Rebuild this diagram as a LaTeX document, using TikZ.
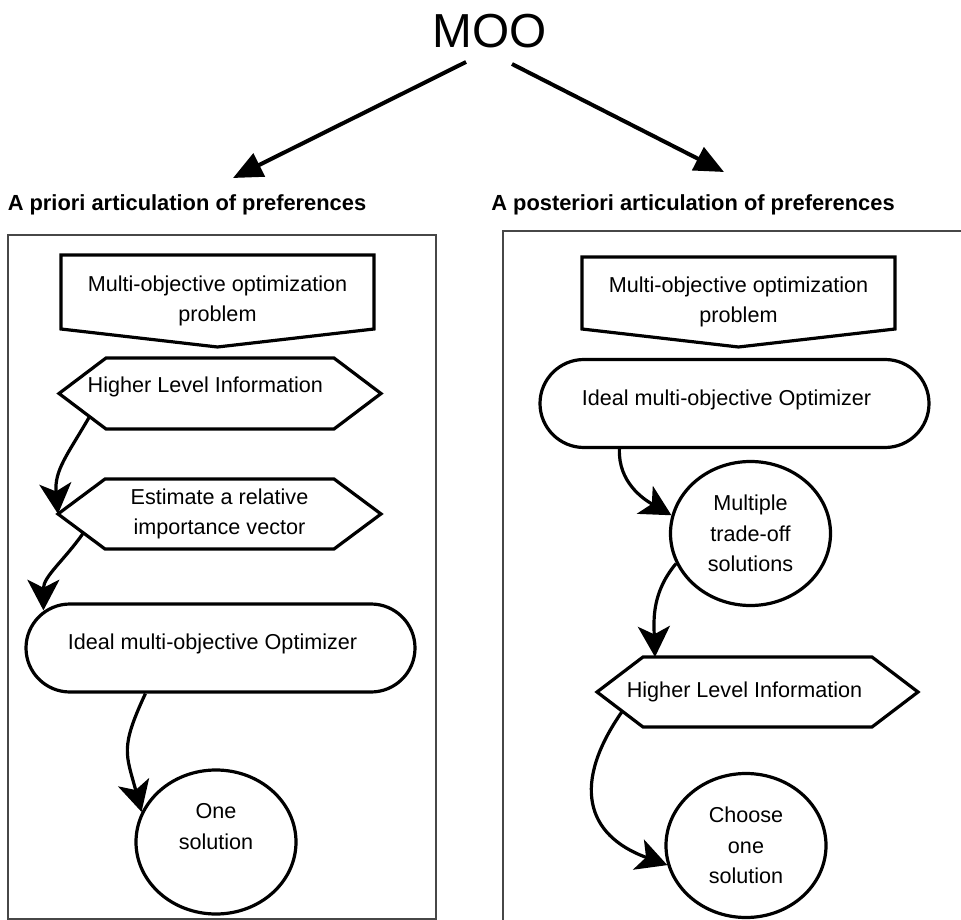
\documentclass[tikz,border=0pt]{standalone}
\usepackage{fontspec}
\setmainfont{Liberation Sans}
\usetikzlibrary{arrows.meta,calc,shapes.geometric}
\begin{document}
\begin{tikzpicture}[x=0.75pt,y=-0.75pt,
  body/.style={font=\fontsize{16.2}{23}\selectfont},
  boxn/.style={body, draw=none, inner sep=0pt, outer sep=0pt},
  outl/.style={draw=black, line width=2.4pt, line join=miter},
  stad/.style={body, draw=black, line width=2.4pt, rectangle, rounded corners=33pt, minimum width=291.75pt, minimum height=66pt, inner sep=0pt},
  circ/.style={body, align=center, draw=black, line width=2.4pt, ellipse, minimum width=120pt, minimum height=108pt, inner sep=0pt},
  flowarr/.style={draw=black, line width=2.4pt, -{Stealth[length=23pt,width=24pt,inset=6pt]}},
  bigarr/.style={draw=black, line width=3pt, -{Triangle[length=22pt,width=19pt]}},
  panel/.style={draw=black!72, line width=1pt},
  ttl/.style={font=\fontsize{16.4}{20}\selectfont\bfseries, inner sep=0pt}
]
\useasboundingbox (0,0) rectangle (961,920);

% title and branches
\node[font=\fontsize{35.8}{40}\selectfont, inner sep=0pt] (moo) at (490,31) {MOO};
\node[ttl] (tl) at (187,205) {A priori articulation of preferences};
\node[ttl] (tr) at (693,205) {A posteriori articulation of preferences};
\draw[bigarr] ($(moo.center)+(-24,31)$) -- ($(tl.center)+(46,-27)$);
\draw[bigarr] ($(moo.center)+(22,33)$) -- ($(tr.center)+(31,-33)$);

% panels
\draw[panel] (8,235) rectangle (436,919);
\draw[panel] (962,231) -- (503,231) -- (503,921);

% ---------- left panel ----------
\node[boxn, align=center, minimum width=234.75pt, minimum height=69pt] (d1) at (217.5,301) {Multi-objective optimization\\problem};
\draw[outl] (d1.north west) -- (d1.north east) -- ($(d1.south east)+(0,-18)$) -- (d1.south) -- ($(d1.south west)+(0,-18)$) -- cycle;

\node[boxn, minimum width=241.5pt, minimum height=53.25pt, text depth=13pt] (h1) at (220,393.5) {Higher Level Information\hspace*{22pt}};
\coordinate (h1nw) at ($(h1.north west)+(47,0)$);
\coordinate (h1ne) at ($(h1.north east)+(-47,0)$);
\coordinate (h1se) at ($(h1.south east)+(-47,0)$);
\coordinate (h1sw) at ($(h1.south west)+(47,0)$);
\draw[outl] (h1.west) -- (h1nw) -- (h1ne) -- (h1.east) -- (h1se) -- (h1sw) -- cycle;

\node[boxn, align=center, minimum width=242.25pt, minimum height=52.5pt] (h2) at (219.5,514) {Estimate a relative\\importance vector};
\coordinate (h2nw) at ($(h2.north west)+(47,0)$);
\coordinate (h2ne) at ($(h2.north east)+(-47,0)$);
\coordinate (h2se) at ($(h2.south east)+(-47,0)$);
\coordinate (h2sw) at ($(h2.south west)+(47,0)$);
\draw[outl] (h2.west) -- (h2nw) -- (h2ne) -- (h2.east) -- (h2se) -- (h2sw) -- cycle;

\node[stad, text depth=9pt] (st1) at (220.5,648) {Ideal multi-objective Optimizer\hspace*{12pt}};

\node[circ] (c1) at (216,842) {One\\solution\\\mbox{}};

\draw[flowarr] ($(h1.west)!0.65!(h1sw)$) to[out=240,in=95,looseness=1.1] (h2.west);
\draw[flowarr] ($(h2.west)!0.54!(h2sw)$) to[out=235,in=90] ($(st1.north west)+(19,8)$);
\draw[flowarr] ($(st1.south west)+(121,0)$) to[out=245,in=105,looseness=1.3] (c1.158);

% ---------- right panel ----------
\node[boxn, align=center, minimum width=234.75pt, minimum height=67.5pt] (d2) at (738.5,302) {Multi-objective optimization\\problem};
\draw[outl] (d2.north west) -- (d2.north east) -- ($(d2.south east)+(0,-18)$) -- (d2.south) -- ($(d2.south west)+(0,-18)$) -- cycle;

\node[stad, text depth=9pt] (st2) at (734.5,403.5) {Ideal multi-objective Optimizer\hspace*{12pt}};

\node[circ] (c2) at (750.5,533.5) {Multiple\\trade-off\\solutions};

\node[boxn, minimum width=240.75pt, minimum height=52.5pt] (h3) at (757.5,692) {Higher Level Information\hspace*{19.5pt}};
\coordinate (h3nw) at ($(h3.north west)+(46,0)$);
\coordinate (h3ne) at ($(h3.north east)+(-46,0)$);
\coordinate (h3se) at ($(h3.south east)+(-46,0)$);
\coordinate (h3sw) at ($(h3.south west)+(46,0)$);
\draw[outl] (h3.west) -- (h3nw) -- (h3ne) -- (h3.east) -- (h3se) -- (h3sw) -- cycle;

\node[circ] (c3) at (746,845.5) {Choose\\one\\solution};

\draw[flowarr] ($(st2.south west)+(81,0)$) to[out=268,in=150] (c2.167);
\draw[flowarr] (c2.202) to[out=230,in=92] ($(h3nw)+(12,0)$);
\draw[flowarr] ($(h3.west)!0.55!(h3sw)$) to[out=235,in=160,looseness=1.4] (c3.194);
\end{tikzpicture}
\end{document}
